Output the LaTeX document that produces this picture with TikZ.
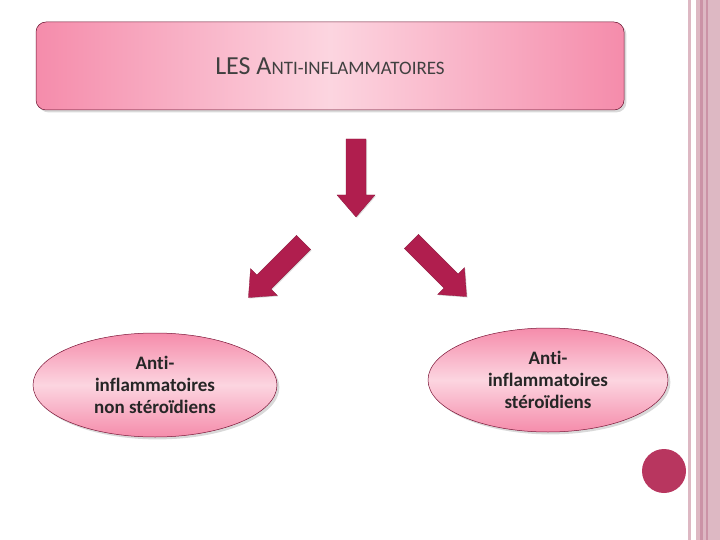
\documentclass[tikz,border=0pt]{standalone}
\usepackage{fontspec}
\setmainfont{Carlito}[Ligatures={NoCommon,NoRare,NoContextual}]
\usetikzlibrary{shapes.geometric,shadows}
\definecolor{stripe}{HTML}{DDB8C3}
\definecolor{stripedk}{HTML}{CB93A6}
\definecolor{arrowc}{HTML}{B01E4E}
\definecolor{pinkA}{HTML}{F58CAB}
\definecolor{pinkB}{HTML}{FCD5E0}
\definecolor{dot}{HTML}{B8365F}
\tikzset{
  bigarrow/.style={fill=arrowc, draw=arrowc!80!black, line width=0.3pt, drop shadow={opacity=0.25,shadow xshift=1pt,shadow yshift=-1pt}},
  pinkell/.style={ellipse, draw=arrowc!70!black, line width=0.5pt, left color=pinkA, right color=pinkA, middle color=pinkB, shading angle=0, align=center, font=\bfseries\fontsize{19}{22}\selectfont, text=black!85, drop shadow={opacity=0.3}},
}
\begin{document}
\begin{tikzpicture}[x=1pt,y=-1pt]
\useasboundingbox (0,0) rectangle (720,540);
% right stripes
\fill[stripe] (688,0) rectangle (691,540);
\fill[stripe] (696,0) rectangle (720,540);
\fill[stripedk] (700,0) rectangle (703,540);
\fill[stripedk] (706,0) rectangle (708,540);
% title
\node[draw=arrowc!60!black, line width=0.5pt, rounded corners=10pt, minimum width=588pt, minimum height=88pt,
  left color=pinkA, right color=pinkA, middle color=pinkB, drop shadow={opacity=0.3}, text=black!75,
  font=\fontsize{26}{30}\selectfont] (title) at (330,66) {LES A{\fontsize{19}{22}\selectfont NTI-INFLAMMATOIRES}};
% arrows
\foreach \nm/\x/\y/\r in {down/356/178/0, left/276/270/-45, right/439/269/45}{
  \begin{scope}[shift={(\x,\y)}, rotate=\r]
    \fill[bigarrow] (-10,-39) -- (10,-39) -- (10,17) -- (19,17) -- (0,39) -- (-19,17) -- (-10,17) -- cycle;
  \end{scope}
}
% ellipses
\node[pinkell, minimum width=244pt, minimum height=104pt, inner sep=0pt] (ains) at (155,385) {Anti-\\inflammatoires\\non stéroïdiens};
\node[pinkell, minimum width=240pt, minimum height=104pt, inner sep=0pt] (ais) at (548,380) {Anti-\\inflammatoires\\stéroïdiens};
\node[circle, fill=dot, minimum size=44pt, inner sep=0pt] (dotn) at (664,471) {};
\end{tikzpicture}
\end{document}
